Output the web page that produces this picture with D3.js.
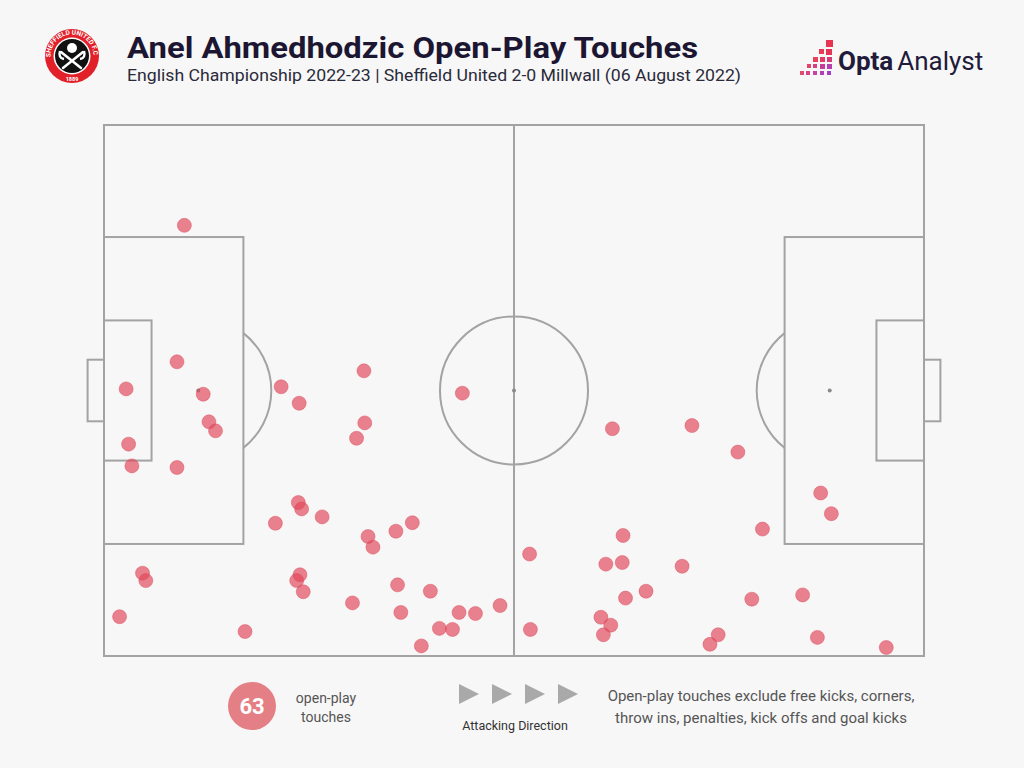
<!DOCTYPE html>
<html>
<head>
<meta charset="utf-8">
<script src="https://cdnjs.cloudflare.com/ajax/libs/d3/7.8.5/d3.min.js"></script>
<style>
  body { margin: 0; background: #f7f7f7; }
  svg { display: block; }
</style>
</head>
<body>
<svg id="chart"></svg>
<script>
/////////////////////////////////////////////////
/////////////////// Data ////////////////////////
/////////////////////////////////////////////////

// Opta pitch coordinates (0-100), attacking left to right, y = 0 at the bottom touchline
var touchX = [9.8, 8.9, 2.7, 12.1, 12.8, 13.6, 3.0, 3.4, 8.9, 21.6,
  23.8, 31.7, 31.8, 30.8, 43.7, 23.7, 24.1, 26.6, 20.9, 32.2,
  32.8, 35.6, 37.6, 4.7, 5.1, 23.9, 23.5, 24.3, 35.8, 39.8,
  30.3, 36.2, 43.3, 45.3, 48.3, 1.9, 17.2, 40.9, 42.5, 38.7,
  51.9, 52.0, 62.0, 71.7, 77.3, 63.3, 61.2, 63.2, 70.5, 63.6,
  66.1, 60.6, 61.8, 60.9, 79.0, 80.3, 85.2, 87.4, 88.7, 74.9,
  73.9, 87.0, 95.4];
var touchY = [81.1, 55.4, 50.3, 49.3, 44.1, 42.4, 39.9, 35.8, 35.5, 50.7,
  47.6, 53.7, 43.9, 41.0, 49.5, 28.9, 27.7, 26.2, 25.0, 22.5,
  20.5, 23.5, 25.1, 15.6, 14.2, 15.3, 14.2, 12.1, 13.4, 12.2,
  10.0, 8.2, 8.2, 8.0, 9.5, 7.4, 4.6, 5.2, 5.0, 1.9,
  19.2, 5.0, 42.8, 43.4, 38.4, 22.7, 17.3, 17.6, 16.9, 10.9,
  12.2, 7.3, 5.8, 4.0, 10.7, 23.9, 11.5, 30.7, 26.8, 4.0,
  2.2, 3.5, 1.6];

var titleText = "Anel Ahmedhodzic Open-Play Touches";
var subtitleText = "English Championship 2022-23 | Sheffield United 2-0 Millwall (06 August 2022)";
var totalLabel = ["open-play", "touches"];
var noteLines = ["Open-play touches exclude free kicks, corners,", "throw ins, penalties, kick offs and goal kicks"];
var directionLabel = "Attacking Direction";
var arrows = [0, 1, 2, 3];

var touches = touchX.map(function (d, i) { return {x: d, y: touchY[i]}; });

/////////////////////////////////////////////////
/////////////////// Setup ///////////////////////
/////////////////////////////////////////////////

var svgWidth = 1024, svgHeight = 768;
var lineColor = "#a3a3a3", ink = "#1d1633", grey = "#555";
var font = "Roboto, 'Noto Sans', sans-serif";

var svg = d3.select("#chart")
  .attr("width", svgWidth)
  .attr("height", svgHeight);

svg.append("rect").attr("width", svgWidth).attr("height", svgHeight).attr("fill", "#f7f7f7");

var xScale = d3.scaleLinear().domain([0, 100]).range([104, 924]);
var yScale = d3.scaleLinear().domain([0, 100]).range([656, 125]);

/////////////////////////////////////////////////
/////////////////// Pitch ///////////////////////
/////////////////////////////////////////////////

var pitch = svg.append("g")
  .attr("fill", "none")
  .attr("stroke", lineColor)
  .attr("stroke-width", 2);

function box(x0, x1, y0, y1) {
  pitch.append("rect")
    .attr("x", xScale(Math.min(x0, x1)))
    .attr("y", yScale(y1))
    .attr("width", Math.abs(xScale(x1) - xScale(x0)))
    .attr("height", yScale(y0) - yScale(y1));
}

box(0, 100, 0, 100);
box(0, 17, 21.1, 78.9);
box(100, 83, 21.1, 78.9);
box(0, 5.8, 36.8, 63.2);
box(100, 94.2, 36.8, 63.2);
box(-2, 0, 44.2, 55.8);
box(100, 102, 44.2, 55.8);

pitch.append("line")
  .attr("x1", xScale(50)).attr("x2", xScale(50))
  .attr("y1", yScale(0)).attr("y2", yScale(100));

var circleR = 74, arcR = 73;
pitch.append("circle")
  .attr("cx", xScale(50)).attr("cy", yScale(50)).attr("r", circleR);

// penalty arcs outside the boxes
[[11.5, 17, 0], [88.5, 83, Math.PI]].forEach(function (p) {
  var cx = xScale(p[0]), cy = yScale(50);
  var a = Math.acos(Math.abs(xScale(p[1]) - cx) / arcR);
  var path = d3.path();
  path.arc(cx, cy, arcR, p[2] - a, p[2] + a);
  pitch.append("path").attr("d", path.toString());
});

svg.selectAll(".spot")
  .data([11.5, 50, 88.5])
  .enter()
  .append("circle")
  .attr("class", "spot")
  .attr("cx", function (d) { return xScale(d); })
  .attr("cy", yScale(50))
  .attr("r", 2)
  .attr("fill", "#8a8a8a");

/////////////////////////////////////////////////
/////////////////// Touches /////////////////////
/////////////////////////////////////////////////

svg.append("g").selectAll("circle")
  .data(touches)
  .enter()
  .append("circle")
  .attr("cx", function (d) { return xScale(d.x); })
  .attr("cy", function (d) { return yScale(d.y); })
  .attr("r", 7)
  .attr("fill", "#e0485a")
  .attr("fill-opacity", 0.68)
  .attr("stroke", "#dc4a5a")
  .attr("stroke-opacity", 0.45)
  .attr("stroke-width", 1);

/////////////////////////////////////////////////
/////////////////// Header //////////////////////
/////////////////////////////////////////////////

svg.append("text")
  .attr("x", 127).attr("y", 58)
  .attr("textLength", 571).attr("lengthAdjust", "spacingAndGlyphs")
  .attr("font-family", font).attr("font-weight", 700).attr("font-size", 30)
  .attr("fill", ink)
  .text(titleText);

svg.append("text")
  .attr("x", 127).attr("y", 81)
  .attr("textLength", 614).attr("lengthAdjust", "spacingAndGlyphs")
  .attr("font-family", font).attr("font-weight", 400).attr("font-size", 17)
  .attr("fill", "#2a2a3a")
  .text(subtitleText);

// club crest
var crest = svg.append("g").attr("transform", "translate(72,56)");
crest.append("circle").attr("r", 27).attr("fill", "#e2202a");
crest.append("circle").attr("r", 18.5).attr("fill", "#fff");
crest.append("circle").attr("r", 17).attr("fill", "#111");
crest.append("path").attr("id", "crestArc")
  .attr("d", "M -21.5,0 A 21.5,21.5 0 0 1 21.5,0").attr("fill", "none");
crest.append("text")
  .attr("font-family", font).attr("font-weight", 700).attr("font-size", 6.5).attr("fill", "#fff")
  .append("textPath").attr("href", "#crestArc").attr("startOffset", "50%").attr("text-anchor", "middle")
  .text("SHEFFIELD UNITED F.C.");
crest.append("text").attr("y", 25).attr("text-anchor", "middle")
  .attr("font-family", font).attr("font-weight", 700).attr("font-size", 5.5).attr("fill", "#fff")
  .text("1889");
crest.append("circle").attr("cy", -8).attr("r", 5).attr("fill", "#fff");
crest.append("path")
  .attr("d", "M -11,-4 L 9,12 M 11,-4 L -9,12")
  .attr("stroke", "#fff").attr("stroke-width", 2.5).attr("stroke-linecap", "round");
crest.append("path")
  .attr("d", "M -12,-5 Q -14,2 -8,3 M 12,-5 Q 14,2 8,3")
  .attr("stroke", "#fff").attr("stroke-width", 2.5).attr("fill", "none");

// Opta Analyst logo
var logo = svg.append("g");
var squares = [
  [826, 40, 7, "#e8344e"],
  [826, 49, 6, "#e43556"], [819, 49, 5, "#e83a52"],
  [827, 57, 5, "#d83a78"], [820, 57, 5, "#e23c62"], [813, 57, 5, "#e8415a"],
  [827, 64, 5, "#b83fb0"], [820, 64, 5, "#c43f9c"], [813, 64, 4, "#d64080"], [807, 64, 4, "#e2446a"],
  [827, 71, 4, "#a23fc4"], [820, 71, 4, "#b040b8"], [813, 71, 4, "#c842a0"], [806, 71, 4, "#d84488"], [800, 71, 4, "#e24a70"]
];
logo.selectAll("rect")
  .data(squares)
  .enter()
  .append("rect")
  .attr("x", function (d) { return d[0]; })
  .attr("y", function (d) { return d[1]; })
  .attr("width", function (d) { return d[2]; })
  .attr("height", function (d) { return d[2]; })
  .attr("fill", function (d) { return d[3]; });
var logoText = logo.append("text")
  .attr("x", 838).attr("y", 70)
  .attr("font-family", font).attr("font-size", 26).attr("fill", "#221a3a");
logoText.append("tspan").attr("font-weight", 700).text("Opta");
logoText.append("tspan").attr("font-weight", 400).attr("dx", 4).text("Analyst");

/////////////////////////////////////////////////
/////////////////// Footer //////////////////////
/////////////////////////////////////////////////

svg.append("circle").attr("cx", 252).attr("cy", 706).attr("r", 24).attr("fill", "#e47f86");
svg.append("text")
  .attr("x", 252).attr("y", 714).attr("text-anchor", "middle")
  .attr("font-family", font).attr("font-weight", 700).attr("font-size", 22).attr("fill", "#fff")
  .text(touches.length);

svg.selectAll(".total-label")
  .data(totalLabel)
  .enter()
  .append("text")
  .attr("class", "total-label")
  .attr("x", 326)
  .attr("y", function (d, i) { return 703 + i * 19; })
  .attr("text-anchor", "middle")
  .attr("font-family", font).attr("font-size", 14).attr("fill", grey)
  .text(function (d) { return d; });

svg.selectAll(".arrow")
  .data(arrows)
  .enter()
  .append("path")
  .attr("class", "arrow")
  .attr("transform", function (d) { return "translate(" + (459 + d * 33) + ",684)"; })
  .attr("d", "M0,0 L20,10 L0,20 Z")
  .attr("fill", "#a9a9a9");

svg.append("text")
  .attr("x", 515).attr("y", 730).attr("text-anchor", "middle")
  .attr("font-family", font).attr("font-size", 12.5).attr("fill", "#333")
  .text(directionLabel);

svg.selectAll(".note")
  .data(noteLines)
  .enter()
  .append("text")
  .attr("class", "note")
  .attr("x", 761)
  .attr("y", function (d, i) { return 701 + i * 22; })
  .attr("text-anchor", "middle")
  .attr("font-family", font).attr("font-size", 15).attr("fill", grey)
  .text(function (d) { return d; });
</script>
</body>
</html>
